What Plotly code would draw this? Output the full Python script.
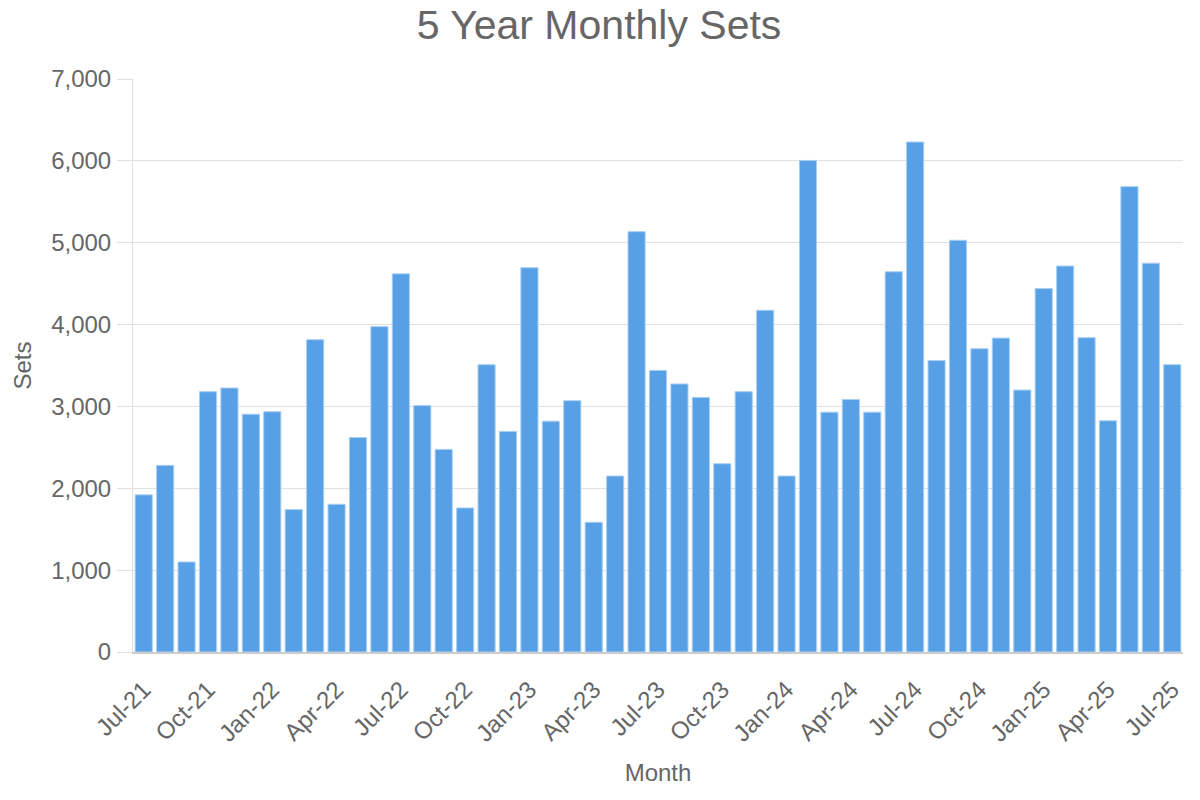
import plotly.graph_objects as go

months = [
    "Jul-21", "Aug-21", "Sep-21", "Oct-21", "Nov-21", "Dec-21",
    "Jan-22", "Feb-22", "Mar-22", "Apr-22", "May-22", "Jun-22",
    "Jul-22", "Aug-22", "Sep-22", "Oct-22", "Nov-22", "Dec-22",
    "Jan-23", "Feb-23", "Mar-23", "Apr-23", "May-23", "Jun-23",
    "Jul-23", "Aug-23", "Sep-23", "Oct-23", "Nov-23", "Dec-23",
    "Jan-24", "Feb-24", "Mar-24", "Apr-24", "May-24", "Jun-24",
    "Jul-24", "Aug-24", "Sep-24", "Oct-24", "Nov-24", "Dec-24",
    "Jan-25", "Feb-25", "Mar-25", "Apr-25", "May-25", "Jun-25",
    "Jul-25",
]

sets = [
    1920, 2280, 1100, 3180, 3225, 2905,
    2935, 1740, 3815, 1805, 2620, 3975,
    4620, 3010, 2475, 1760, 3510, 2695,
    4695, 2820, 3070, 1585, 2150, 5135,
    3440, 3275, 3110, 2300, 3180, 4175,
    2150, 6005, 2930, 3085, 2930, 4645,
    6230, 3560, 5030, 3705, 3835, 3200,
    4440, 4715, 3840, 2825, 5685, 4750,
    3510,
]

tick_labels = months[::3]
y_ticks = [0, 1000, 2000, 3000, 4000, 5000, 6000, 7000]

FONT = "Liberation Sans, Arial, sans-serif"
TXT = "#666666"
GRID = "#e0e0e0"

fig = go.Figure(
    go.Bar(
        x=months,
        y=sets,
        marker=dict(color="#57a0e5", line=dict(color="#a9cff3", width=1)),
    )
)

fig.update_layout(
    width=1200,
    height=800,
    paper_bgcolor="white",
    plot_bgcolor="white",
    bargap=0.2,
    showlegend=False,
    margin=dict(l=133, r=17, t=79, b=148),
    font=dict(family=FONT, color=TXT, size=24),
    title=dict(
        text="5 Year Monthly Sets",
        x=0.4992,
        xanchor="center",
        y=1 - 25 / 800,
        yref="container",
        yanchor="middle",
        font=dict(size=41, color=TXT, family=FONT),
    ),
    xaxis=dict(
        type="category",
        tickmode="array",
        tickvals=tick_labels,
        ticktext=tick_labels,
        tickangle=-45,
        tickfont=dict(size=24, color=TXT),
        showgrid=False,
        showline=True,
        linecolor="#cccccc",
        linewidth=2,
        ticks="outside",
        ticklen=12,
        tickcolor="rgba(0,0,0,0)",
        title=dict(text="Month", font=dict(size=24, color=TXT), standoff=18),
        automargin=False,
    ),
    yaxis=dict(
        range=[0, 7000],
        tickmode="array",
        tickvals=y_ticks,
        tickformat=",d",
        tickfont=dict(size=24, color=TXT),
        showgrid=True,
        gridcolor=GRID,
        gridwidth=1,
        showline=True,
        linecolor=GRID,
        linewidth=1,
        zeroline=False,
        ticks="outside",
        ticklen=15,
        tickcolor=GRID,
        ticklabelstandoff=1,
        title=dict(text="Sets", font=dict(size=24, color=TXT), standoff=12),
        automargin=False,
    ),
)

fig.write_html(
    "out.html",
    config={"displayModeBar": False},
    post_script="document.body.style.margin='0';document.body.style.overflow='hidden';",
)
